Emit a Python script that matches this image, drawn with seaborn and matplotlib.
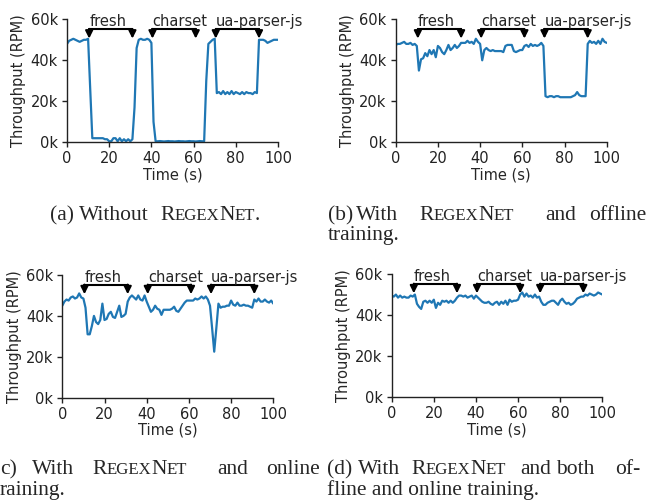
import numpy as np
import matplotlib
matplotlib.use("Agg")
import matplotlib.pyplot as plt
import seaborn as sns

sns.set_style("ticks")
plt.rcParams['font.family'] = ['DejaVu Sans']

# throughput in thousands of requests per minute, one value per second
time = list(range(101))

thru_a = [48, 49.5, 50, 50.5, 50, 49.5, 49, 49.5, 50, 50,
          50.5, 26, 2, 2, 2, 2, 2, 2, 1.5, 1.5,
          0.5, 0.5, 2, 2, 0.5, 2, 0.5, 1.5, 0.5, 1.5,
          0.5, 1.5, 17, 46, 50, 50.5, 50, 50, 50.5, 50,
          48.5, 10, 0.5, 0.5, 0.6, 0.5, 0.4, 0.5, 0.6, 0.5,
          0.5, 0.4, 0.5, 0.6, 0.5, 0.5, 0.4, 0.5, 0.6, 0.5,
          0.5, 0.4, 0.5, 0.6, 0.5, 0.5, 30, 48, 49, 50,
          50.5, 24, 24.5, 23.5, 25, 23.5, 24.5, 23.5, 25, 23.5,
          24.5, 24, 23.5, 24.5, 23.5, 24.5, 24, 24, 23.5, 24.5,
          24, 50, 50, 50, 49.5, 48.5, 49, 49.5, 50, 50,
          50]

thru_b = [47.5, 48, 48, 48.5, 49, 48, 48, 48.5, 47.5, 48,
          47, 35, 40.5, 41, 43.5, 42, 45, 43, 45, 41.5,
          47, 46, 44, 43, 45, 47.5, 45, 46, 47.5, 46,
          47, 48.5, 48.5, 48.5, 49.5, 48.5, 49, 48, 50.5, 49,
          48, 40, 45, 46, 45, 44.5, 45, 44.5, 44.5, 44.5,
          44.5, 44, 47, 47.5, 47.5, 47.5, 44.5, 44, 44.5, 45,
          45, 47, 47.5, 46.5, 48, 47, 47.5, 47, 47.5, 48.5,
          47, 22.5, 22, 22.5, 22.5, 22, 22.5, 22.5, 22, 22,
          22, 22, 22, 22, 22.5, 23, 24.5, 23, 22.5, 22.5,
          22.5, 48, 49.5, 48.5, 49, 48, 49.5, 48, 50.5, 49,
          48.5]

thru_c = [45, 47, 48, 47.5, 49, 49.5, 48.5, 49, 51, 49,
          48.5, 44, 31, 31, 35, 40, 37, 36, 38, 46,
          38, 38.5, 41, 42, 39.5, 39, 42, 45, 39.5, 40,
          41, 47, 49, 50, 49, 48, 50, 48, 47.5, 50,
          47, 44.5, 42, 43, 45, 43.5, 43, 40.5, 43, 43,
          43, 43, 43.5, 44.5, 42.5, 42, 43.5, 45, 46.5, 47.5,
          47.5, 47.5, 47.5, 48.5, 48, 48.5, 49.5, 48.5, 49.5, 48,
          45, 34, 22.5, 34, 46, 44, 44.5, 44.5, 45, 45,
          47.5, 45.5, 45, 46.5, 45, 45, 45.5, 45, 45, 44.5,
          44, 48, 47, 48.5, 47, 47, 48, 47, 46.5, 47.5,
          46]

thru_d = [49.5, 49, 50, 48.5, 49.5, 48.5, 49, 48.5, 48.5, 49.5,
          49, 50, 45.5, 44, 43, 46.5, 47, 46, 47, 46,
          47.5, 43.5, 46, 45, 47, 46.5, 47, 46, 47, 46,
          47, 48.5, 49.5, 49.5, 49, 49.5, 48.5, 49, 49.5, 48,
          49.5, 48.5, 47.5, 46.5, 46, 46, 46.5, 45.5, 45, 46,
          46.5, 45, 46.5, 45.5, 47, 45, 47.5, 46.5, 47, 47,
          47.5, 50, 51, 49, 50.5, 49, 49.5, 48.5, 50, 48.5,
          49, 46.5, 45, 45, 46, 46.5, 47, 47, 46, 45,
          47, 48, 46.5, 45.5, 46, 45, 45.5, 46.5, 48, 48.5,
          49, 49, 50, 49.5, 50.5, 50, 49.5, 50, 51, 50.5,
          50]

series = [thru_a, thru_b, thru_c, thru_d]

attack_names = ["fresh", "charset", "ua-parser-js"]
attack_start = [10.5, 40.5, 70.5]
attack_end = [31, 61, 91]

y_ticks = [0, 20, 40, 60]
x_ticks = [0, 20, 40, 60, 80, 100]

W, H = 648, 501
fig = plt.figure(figsize=(W / 100, H / 100), dpi=100)

# axes boxes in pixels: left, top, right, bottom
boxes = [(67, 19.3, 278, 142.3), (395.7, 19.3, 606.7, 142.3),
         (62.3, 275, 273.3, 397.7), (391.7, 274, 602.3, 397.3)]

blue = "#1f77b4"
for vals, (l, t, r, b) in zip(series, boxes):
    ax = fig.add_axes([l / W, 1 - b / H, (r - l) / W, (b - t) / H])
    sns.lineplot(x=time, y=vals, ax=ax, color=blue, lw=1.6)
    ax.set_xlim(0, 100)
    ax.set_ylim(0, 60)
    ax.set_xticks(x_ticks)
    ax.set_yticks(y_ticks)
    ax.set_yticklabels([f"{v}k" for v in y_ticks])
    ax.tick_params(labelsize=10.5, length=3.5, width=1, pad=3, colors="#222222")
    ax.set_xlabel("Time (s)", fontsize=10.5, labelpad=0.5)
    ax.set_ylabel("Throughput (RPM)", fontsize=10.5, labelpad=3)
    sns.despine(ax=ax)
    for sp in ["left", "bottom"]:
        ax.spines[sp].set_color("#222222")
        ax.spines[sp].set_linewidth(1)
    for name, s, e in zip(attack_names, attack_start, attack_end):
        ax.plot([s, e], [55.1, 55.1], color="k", lw=1.5, clip_on=False)
        for xx in (s, e):
            ax.annotate("", xy=(xx, 50.6), xytext=(xx, 55.3),
                        arrowprops=dict(arrowstyle="-|>", color="k", lw=1.5,
                                        mutation_scale=11, shrinkA=0, shrinkB=0),
                        annotation_clip=False)
        ax.text(s, 56.8, name, ha="left", va="baseline", fontsize=10.5, clip_on=False)

# captions (serif with small caps, justified like the paper)
cap_size = 15.5
renderer = fig.canvas.get_renderer()


def word_parts(word):
    if word.startswith("REGEXNET"):
        parts = [("R", 1.0), ("EGEX", 0.78), ("N", 1.0), ("ET", 0.78)]
        if word[8:]:
            parts.append((word[8:], 1.0))
        return parts
    return [(word, 1.0)]


def put_word(x, y, word, align="left"):
    texts = []
    for s, k in word_parts(word):
        texts.append(fig.text(0, 1 - y / H, s, fontsize=cap_size * k,
                              family="Liberation Serif", ha="left", va="baseline"))
    widths = [t.get_window_extent(renderer).width for t in texts]
    if align == "right":
        x -= sum(widths)
    for t, w in zip(texts, widths):
        t.set_x(x / W)
        x += w


# (baseline, [(word, x, align)])
captions = [
    (220, [("(a)", 50, "left"), ("Without", 79, "left"), ("REGEXNET.", 160, "left")]),
    (220, [("(b)", 328, "left"), ("With", 356, "left"), ("REGEXNET", 419, "left"),
           ("and", 545, "left"), ("offline", 646, "right")]),
    (240, [("training.", 328, "left")]),
    (474, [("c)", 0, "left"), ("With", 32, "left"), ("REGEXNET", 92, "left"),
           ("and", 217, "left"), ("online", 320, "right")]),
    (495, [("raining.", 0, "left")]),
    (474, [("(d)", 327, "left"), ("With", 358, "left"), ("REGEXNET", 411, "left"),
           ("and", 520, "left"), ("both", 556, "left"), ("of-", 640, "right")]),
    (495, [("fline and online training.", 327, "left")]),
]
for y, words in captions:
    for w, x, al in words:
        put_word(x, y, w, al)

fig.savefig("out.png", dpi=100)
